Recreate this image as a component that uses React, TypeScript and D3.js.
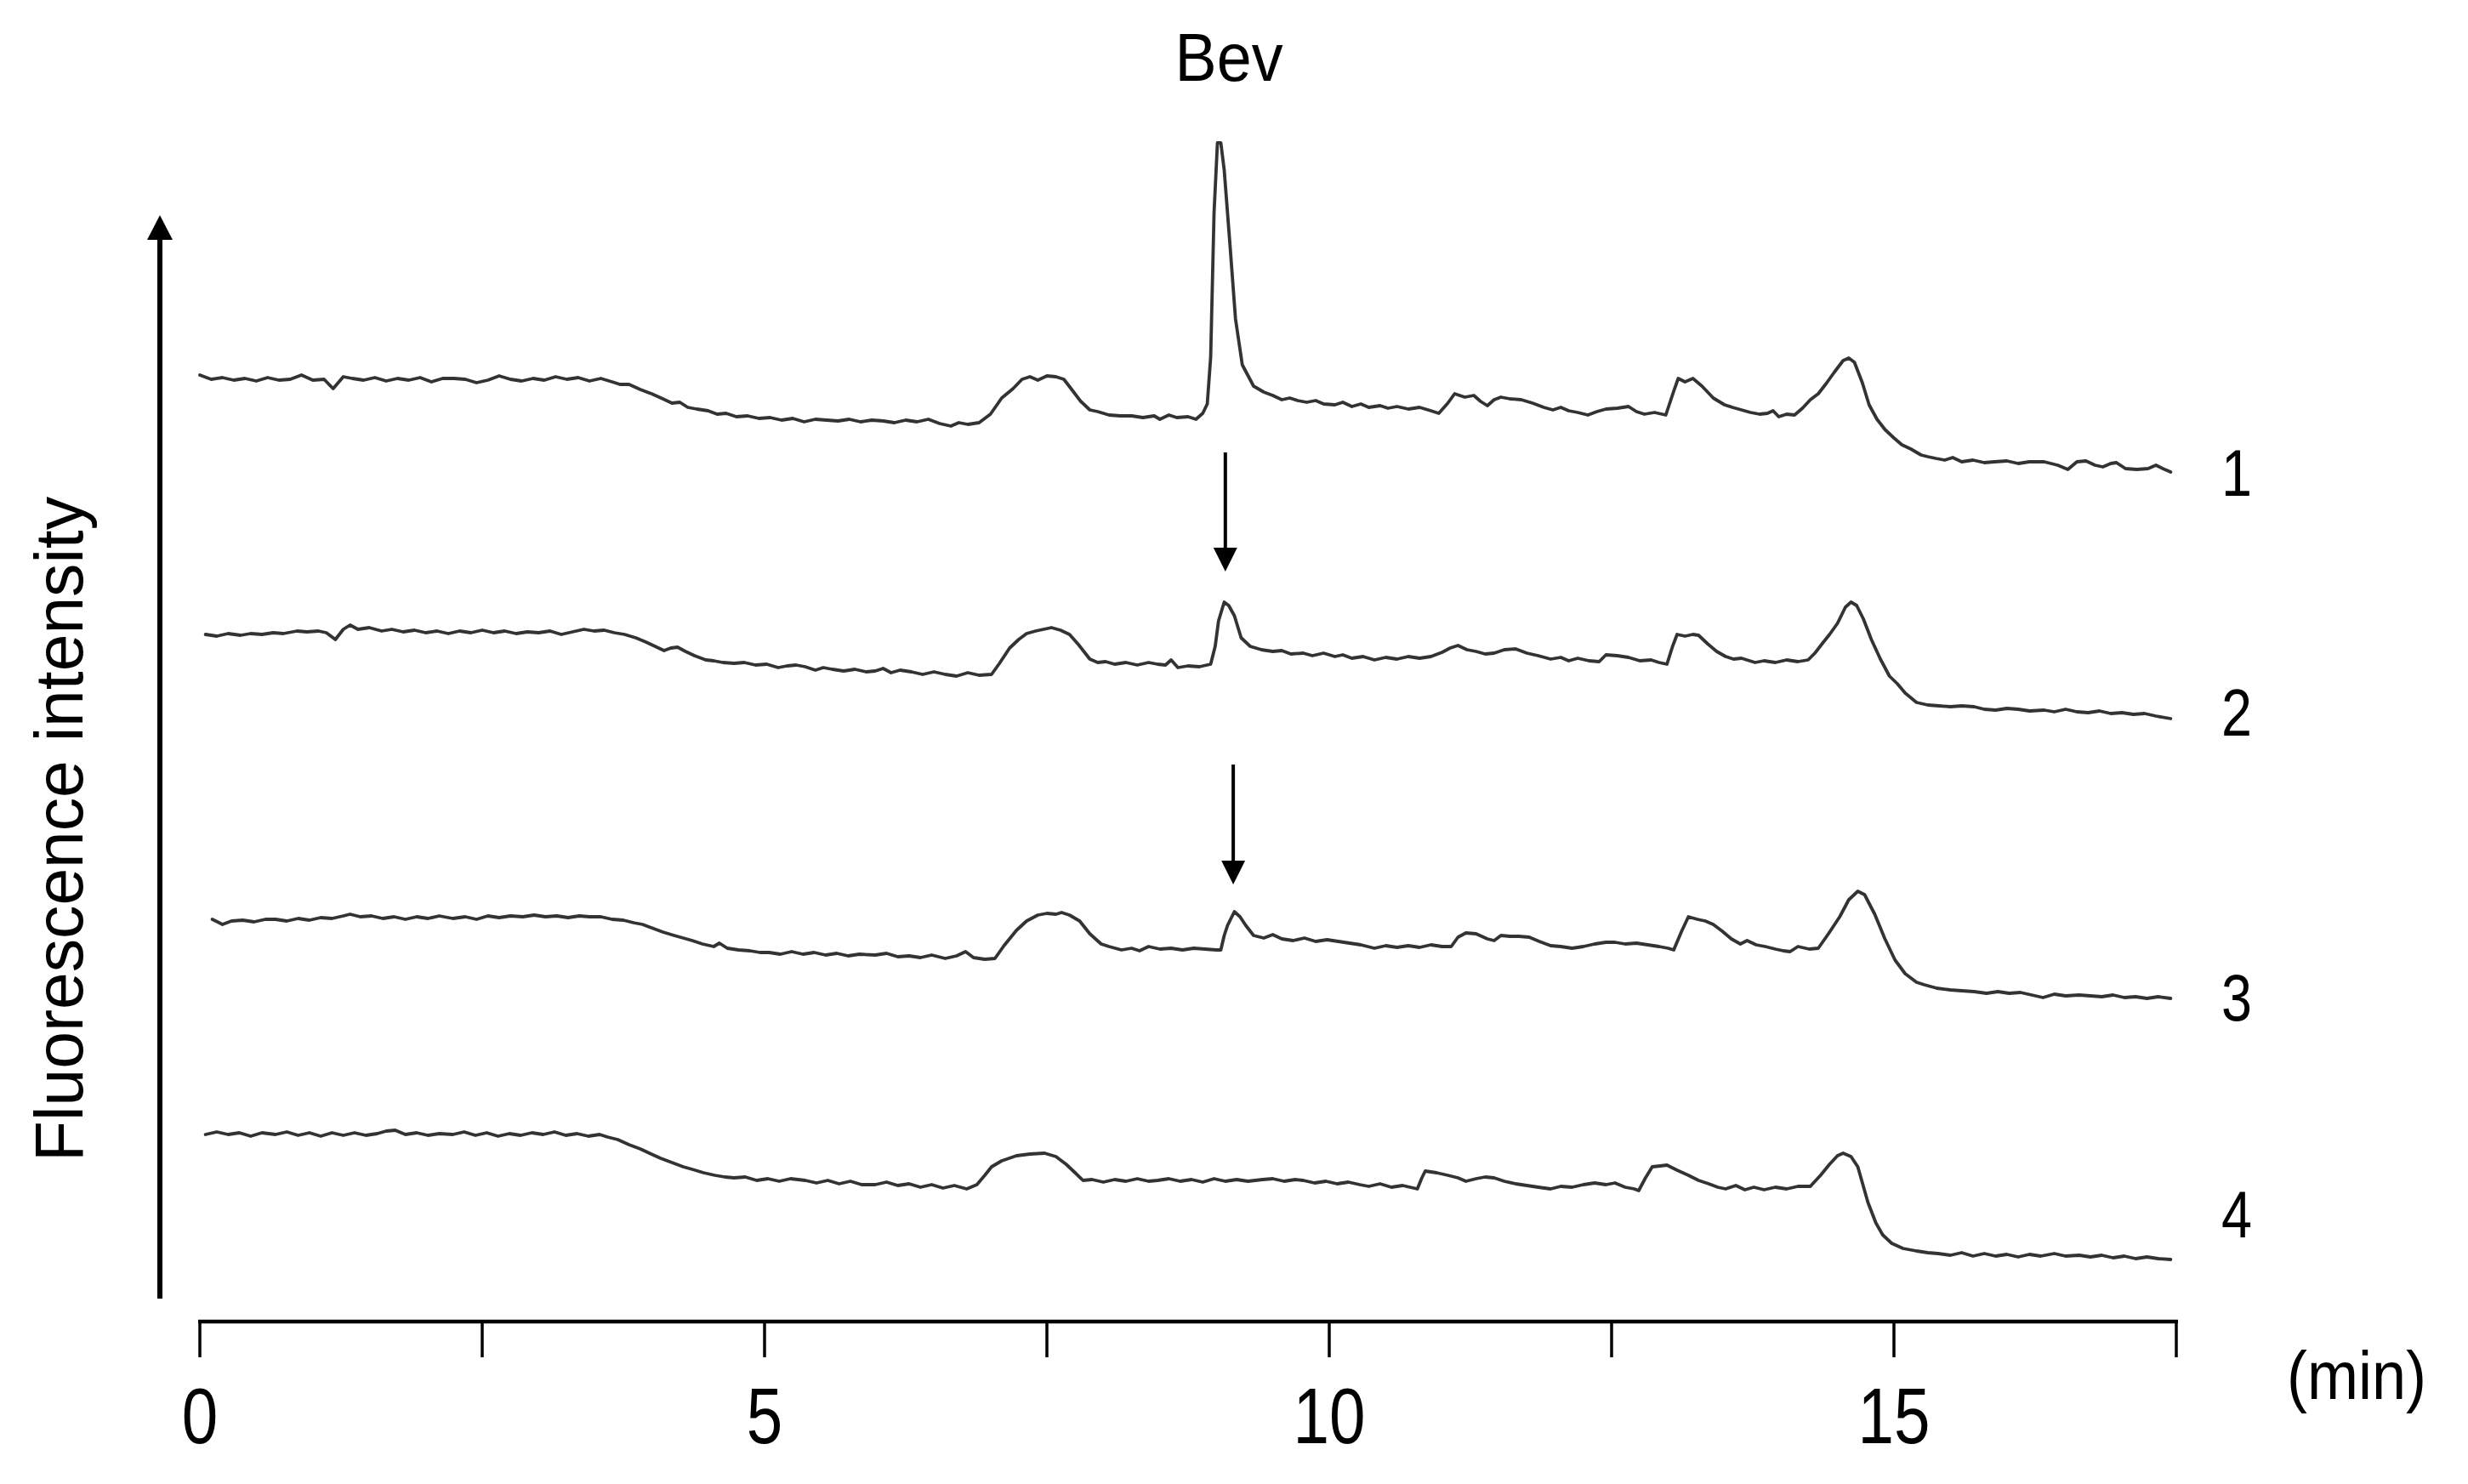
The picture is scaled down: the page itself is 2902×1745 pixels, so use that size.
import React from "react";
import * as d3 from "d3";

// Retention time (min) and fluorescence intensity (arbitrary units)
const trace1: [number, number][] = [
  [0,1159],[0.1,1154],[0.2,1156],[0.3,1153],[0.4,1155],[0.5,1152],[0.6,1156],[0.7,1153],[0.8,1154],[0.9,1159],
  [1.0,1153],[1.1,1154],[1.18,1143],[1.27,1157],[1.35,1155],[1.45,1153],[1.55,1156],[1.65,1152],[1.75,1155],[1.85,1153],
  [1.95,1156],[2.05,1151],[2.15,1155],[2.25,1155],[2.35,1154],[2.45,1150],[2.55,1153],[2.65,1158],[2.75,1154],[2.85,1152],
  [2.95,1155],[3.05,1153],[3.15,1157],[3.25,1154],[3.35,1156],[3.45,1152],[3.55,1155],[3.65,1151],[3.72,1148],[3.8,1148],
  [3.9,1142],[4.0,1137],[4.1,1131],[4.18,1126],[4.25,1127],[4.32,1121],[4.4,1119],[4.5,1117],[4.58,1113],[4.66,1114],
  [4.75,1110],[4.85,1111],[4.95,1108],[5.05,1109],[5.15,1106],[5.25,1108],[5.35,1104],[5.45,1107],[5.55,1106],[5.65,1105],
  [5.75,1107],[5.85,1104],[5.95,1106],[6.05,1105],[6.15,1103],[6.25,1106],[6.35,1104],[6.45,1107],[6.55,1102],[6.65,1099],
  [6.72,1103],[6.8,1101],[6.9,1103],[7.0,1113],[7.1,1132],[7.2,1143],[7.28,1154],[7.35,1157],[7.42,1153],[7.5,1158],
  [7.58,1157],[7.65,1154],[7.72,1142],[7.8,1128],[7.88,1118],[7.95,1116],[8.05,1112],[8.15,1111],[8.25,1111],[8.35,1109],
  [8.45,1111],[8.5,1107],[8.58,1112],[8.65,1109],[8.75,1110],[8.82,1107],[8.88,1114],[8.92,1125],[8.95,1180],[8.98,1350],
  [9.01,1432],[9.04,1432],[9.07,1400],[9.12,1314],[9.17,1225],[9.23,1171],[9.33,1146],[9.42,1139],[9.5,1135],[9.58,1130],
  [9.65,1132],[9.72,1129],[9.8,1127],[9.88,1129],[9.95,1125],[10.05,1124],[10.12,1127],[10.2,1122],[10.28,1125],[10.35,1121],
  [10.45,1123],[10.52,1120],[10.6,1122],[10.7,1119],[10.8,1121],[10.9,1117],[10.97,1114],[11.05,1126],[11.11,1137],[11.2,1133],
  [11.28,1135],[11.34,1128],[11.4,1123],[11.46,1130],[11.52,1133],[11.6,1131],[11.7,1130],[11.8,1126],[11.9,1121],[11.98,1118],
  [12.05,1121],[12.12,1117],[12.2,1115],[12.29,1112],[12.37,1116],[12.45,1119],[12.55,1120],[12.65,1122],[12.72,1116],[12.79,1113],
  [12.88,1115],[12.98,1112],[13.05,1140],[13.09,1155],[13.15,1151],[13.22,1155],[13.3,1146],[13.4,1132],[13.5,1124],[13.57,1121],
  [13.65,1118],[13.73,1115],[13.81,1113],[13.88,1114],[13.93,1117],[13.98,1110],[14.05,1113],[14.12,1112],[14.19,1120],[14.26,1130],
  [14.33,1137],[14.4,1149],[14.47,1162],[14.55,1176],[14.6,1179],[14.65,1174],[14.72,1150],[14.78,1124],[14.85,1107],[14.92,1095],
  [15.0,1085],[15.07,1077],[15.15,1072],[15.24,1065],[15.3,1063],[15.37,1061],[15.45,1059],[15.52,1062],[15.6,1057],[15.7,1059],
  [15.8,1056],[15.89,1057],[16.0,1058],[16.1,1055],[16.2,1057],[16.33,1057],[16.45,1053],[16.54,1048],[16.62,1057],[16.7,1058],
  [16.78,1053],[16.85,1051],[16.92,1055],[16.97,1056],[17.05,1049],[17.15,1048],[17.25,1049],[17.32,1053],[17.38,1049],[17.45,1045],
];

const trace2: [number, number][] = [
  [0.05,854],[0.15,852],[0.25,855],[0.36,853],[0.45,855],[0.55,854],[0.65,856],[0.74,855],[0.86,858],[0.95,857],
  [1.05,858],[1.12,856],[1.2,848],[1.27,860],[1.33,865],[1.4,860],[1.5,862],[1.61,858],[1.7,860],[1.8,857],
  [1.9,859],[2.0,856],[2.1,858],[2.2,855],[2.3,858],[2.4,856],[2.5,859],[2.6,856],[2.7,858],[2.8,855],
  [2.9,857],[3.0,856],[3.1,858],[3.2,854],[3.3,857],[3.4,860],[3.49,858],[3.58,859],[3.67,856],[3.76,854],
  [3.86,850],[3.95,845],[4.03,840],[4.11,835],[4.17,838],[4.23,839],[4.3,834],[4.38,829],[4.48,824],[4.55,823],
  [4.63,821],[4.73,820],[4.82,821],[4.92,818],[5.02,819],[5.12,815],[5.2,817],[5.28,818],[5.36,816],[5.45,812],
  [5.52,815],[5.6,813],[5.7,811],[5.8,813],[5.9,810],[5.98,811],[6.05,814],[6.12,809],[6.2,812],[6.3,810],
  [6.4,807],[6.5,810],[6.6,807],[6.7,805],[6.8,809],[6.9,806],[7.01,807],[7.08,820],[7.17,838],[7.25,848],
  [7.32,855],[7.4,858],[7.47,860],[7.54,862],[7.62,859],[7.7,854],[7.78,842],[7.88,825],[7.95,821],[8.02,822],
  [8.1,819],[8.2,821],[8.3,818],[8.4,821],[8.48,819],[8.55,818],[8.6,824],[8.66,815],[8.75,817],[8.85,816],
  [8.95,819],[8.99,840],[9.02,870],[9.07,892],[9.11,888],[9.16,876],[9.22,850],[9.3,840],[9.4,836],[9.5,834],
  [9.58,835],[9.66,831],[9.77,832],[9.85,829],[9.95,832],[10.05,828],[10.12,830],[10.2,826],[10.3,828],[10.4,824],
  [10.5,827],[10.6,825],[10.7,828],[10.8,826],[10.9,828],[11.0,833],[11.07,838],[11.14,841],[11.22,836],[11.3,834],
  [11.38,831],[11.46,832],[11.55,836],[11.65,837],[11.75,832],[11.85,829],[11.96,825],[12.05,827],[12.12,823],[12.2,826],
  [12.3,823],[12.39,822],[12.45,830],[12.55,829],[12.65,827],[12.75,823],[12.85,824],[12.92,821],[12.99,819],[13.04,840],
  [13.08,854],[13.15,852],[13.22,854],[13.27,853],[13.35,843],[13.43,834],[13.51,828],[13.58,825],[13.65,826],[13.77,821],
  [13.85,823],[13.95,821],[14.05,824],[14.15,822],[14.24,824],[14.3,832],[14.37,844],[14.43,854],[14.5,867],[14.57,886],
  [14.62,892],[14.67,888],[14.73,872],[14.8,848],[14.88,825],[14.96,805],[15.03,796],[15.1,785],[15.2,774],[15.3,771],
  [15.4,770],[15.5,769],[15.6,770],[15.71,769],[15.8,766],[15.9,765],[16.0,767],[16.1,766],[16.2,764],[16.33,765],
  [16.42,763],[16.52,766],[16.62,763],[16.72,762],[16.82,764],[16.92,761],[17.02,762],[17.12,760],[17.22,761],[17.32,758],
  [17.45,755],
];

const trace3: [number, number][] = [
  [0.11,519],[0.2,513],[0.28,517],[0.38,518],[0.48,516],[0.58,519],[0.67,519],[0.77,517],[0.87,520],[0.97,518],
  [1.07,521],[1.17,520],[1.27,523],[1.33,525],[1.42,522],[1.52,523],[1.62,520],[1.72,522],[1.82,519],[1.92,522],
  [2.02,520],[2.12,523],[2.24,520],[2.35,522],[2.45,519],[2.55,523],[2.65,521],[2.75,523],[2.86,522],[2.96,524],
  [3.06,522],[3.16,523],[3.26,521],[3.36,523],[3.45,522],[3.55,522],[3.65,519],[3.75,518],[3.84,515],[3.92,513],
  [4.0,509],[4.1,504],[4.2,500],[4.28,497],[4.36,494],[4.45,490],[4.55,487],[4.6,491],[4.67,485],[4.77,483],
  [4.87,482],[4.96,480],[5.04,480],[5.14,478],[5.24,481],[5.34,478],[5.44,480],[5.54,477],[5.64,479],[5.74,476],
  [5.84,478],[5.98,477],[6.08,479],[6.18,475],[6.28,476],[6.38,474],[6.48,477],[6.6,473],[6.7,476],[6.78,481],
  [6.85,474],[6.95,472],[7.04,473],[7.12,488],[7.23,506],[7.32,517],[7.42,524],[7.5,526],[7.58,525],[7.63,527],
  [7.7,524],[7.79,517],[7.88,502],[7.98,490],[8.05,487],[8.16,483],[8.25,485],[8.32,482],[8.4,487],[8.5,484],
  [8.6,485],[8.7,483],[8.8,485],[8.9,484],[9.0,483],[9.04,483],[9.07,500],[9.1,512],[9.16,528],[9.21,522],
  [9.26,512],[9.33,500],[9.42,497],[9.5,501],[9.58,496],[9.68,494],[9.78,497],[9.88,493],[9.98,495],[10.08,493],
  [10.18,491],[10.28,489],[10.4,485],[10.5,488],[10.6,486],[10.7,488],[10.8,486],[10.9,489],[11.0,487],[11.08,487],
  [11.14,498],[11.21,503],[11.3,502],[11.4,496],[11.46,494],[11.52,500],[11.6,499],[11.68,499],[11.77,498],[11.86,493],
  [11.96,488],[12.05,487],[12.15,485],[12.25,487],[12.35,490],[12.45,492],[12.53,492],[12.62,490],[12.72,491],[12.82,489],
  [12.92,487],[13.0,485],[13.05,483],[13.12,505],[13.18,522],[13.26,519],[13.33,517],[13.4,513],[13.48,505],[13.56,496],
  [13.64,490],[13.7,494],[13.78,489],[13.86,487],[13.95,484],[14.02,482],[14.08,481],[14.15,487],[14.25,484],[14.33,485],
  [14.42,502],[14.52,522],[14.6,542],[14.68,552],[14.74,548],[14.83,525],[14.92,496],[15.01,471],[15.1,455],[15.2,445],
  [15.27,442],[15.38,438],[15.5,436],[15.6,435],[15.71,434],[15.82,432],[15.92,434],[16.02,432],[16.12,433],[16.22,430],
  [16.32,427],[16.42,431],[16.52,429],[16.64,430],[16.74,429],[16.84,428],[16.94,430],[17.04,427],[17.14,428],[17.24,426],
  [17.34,428],[17.45,426],
];

const trace4: [number, number][] = [
  [0.05,266],[0.15,269],[0.25,266],[0.35,268],[0.45,264],[0.55,268],[0.67,266],[0.77,269],[0.87,265],[0.97,268],
  [1.07,264],[1.17,268],[1.27,265],[1.37,268],[1.47,265],[1.57,267],[1.65,270],[1.73,271],[1.82,266],[1.92,268],
  [2.02,265],[2.12,267],[2.24,266],[2.34,269],[2.44,265],[2.54,268],[2.64,264],[2.74,267],[2.84,265],[2.94,268],
  [3.04,266],[3.14,269],[3.24,265],[3.34,267],[3.44,264],[3.54,266],[3.61,263],[3.7,260],[3.8,254],[3.9,249],
  [3.98,244],[4.08,238],[4.18,233],[4.28,228],[4.36,225],[4.46,221],[4.56,218],[4.65,216],[4.73,215],[4.83,216],
  [4.93,212],[5.03,214],[5.13,211],[5.23,214],[5.36,212],[5.46,209],[5.56,212],[5.66,208],[5.76,211],[5.86,207],
  [5.98,207],[6.08,210],[6.18,206],[6.28,208],[6.38,204],[6.48,207],[6.58,203],[6.68,206],[6.79,202],[6.88,207],
  [6.95,218],[7.01,228],[7.1,235],[7.23,241],[7.35,243],[7.48,244],[7.58,240],[7.67,231],[7.75,221],[7.82,212],
  [7.9,213],[8.0,210],[8.1,213],[8.2,211],[8.3,214],[8.4,211],[8.48,212],[8.58,214],[8.68,211],[8.78,213],
  [8.88,210],[8.98,214],[9.08,211],[9.18,213],[9.28,211],[9.41,213],[9.5,214],[9.6,211],[9.7,213],[9.77,212],
  [9.87,209],[9.97,211],[10.07,208],[10.17,210],[10.27,207],[10.35,205],[10.45,208],[10.55,204],[10.65,206],[10.78,202],
  [10.82,215],[10.85,223],[10.95,221],[11.05,218],[11.14,215],[11.21,211],[11.3,214],[11.38,216],[11.46,215],[11.55,211],
  [11.65,208],[11.75,206],[11.85,204],[11.96,202],[12.05,205],[12.15,204],[12.25,207],[12.35,209],[12.45,207],[12.53,209],
  [12.62,204],[12.7,202],[12.74,200],[12.8,215],[12.86,228],[12.93,229],[12.99,230],[13.08,224],[13.18,218],[13.27,212],
  [13.36,208],[13.44,204],[13.51,202],[13.6,206],[13.68,201],[13.76,204],[13.85,201],[13.95,204],[14.05,202],[14.15,205],
  [14.26,205],[14.35,218],[14.43,231],[14.5,241],[14.55,244],[14.62,240],[14.68,228],[14.77,186],[14.84,162],[14.9,148],
  [14.98,138],[15.08,132],[15.2,129],[15.3,127],[15.39,126],[15.5,124],[15.6,127],[15.7,123],[15.8,126],[15.9,123],
  [16.0,125],[16.1,122],[16.2,125],[16.3,123],[16.42,126],[16.52,123],[16.64,124],[16.74,122],[16.84,124],[16.94,121],
  [17.04,123],[17.14,120],[17.24,122],[17.34,120],[17.45,119],
];

const traces = [trace1, trace2, trace3, trace4];
const traceLabels = ["1", "2", "3", "4"];
// intensity at which each trace label sits (label baseline)
const traceLabelLevels = [1017, 735, 400, 145];

const xTicks = [0, 2.5, 5, 7.5, 10, 12.5, 15, 17.5];
const xTickLabels = [0, 5, 10, 15];

// Bev arrows: retention time, shaft top and tip (intensity units)
const bevArrows = [
  { t: 9.08, top: 1068, tip: 928 },
  { t: 9.15, top: 701, tip: 560 },
];

const W = 2902;
const H = 1745;
const FONT = "Arial, 'Liberation Sans', Helvetica, sans-serif";

export default function App() {
  const x = d3.scaleLinear().domain([0, 17.5]).range([235, 2559]);
  const y = d3.scaleLinear().domain([46, 1346]).range([1554, 254]);
  const line = d3
    .line<[number, number]>()
    .x((d) => x(d[0]))
    .y((d) => y(d[1]));

  const axisY = y(46);
  const arrowX = 188;
  const arrowBottom = 1527;
  const arrowTip = 253;

  return (
    <svg
      width={W}
      height={H}
      viewBox={`0 0 ${W} ${H}`}
      style={{ position: "absolute", left: 0, top: 0, background: "#fff" }}
    >
      <rect x={0} y={0} width={W} height={H} fill="#fff" />

      {/* traces */}
      {traces.map((tr, i) => (
        <path
          key={i}
          d={line(tr) || ""}
          fill="none"
          stroke="#333333"
          strokeWidth={3.8}
          strokeLinejoin="round"
          strokeLinecap="round"
        />
      ))}

      {/* trace labels */}
      {traceLabels.map((lb, i) => (
        <text
          key={lb}
          x={2630}
          y={y(traceLabelLevels[i])}
          fontFamily={FONT}
          fontSize={78}
          textAnchor="middle"
          textLength={36}
          lengthAdjust="spacingAndGlyphs"
          fill="#000"
        >
          {lb}
        </text>
      ))}

      {/* Bev label */}
      <text
        x={1445}
        y={95}
        fontFamily={FONT}
        fontSize={80}
        textAnchor="middle"
        textLength={127}
        lengthAdjust="spacingAndGlyphs"
        fill="#000"
      >
        Bev
      </text>

      {/* Bev arrows */}
      {bevArrows.map((a, i) => {
        const ax = x(a.t);
        const tipY = y(a.tip);
        const topY = y(a.top);
        return (
          <g key={i}>
            <line x1={ax} x2={ax} y1={topY} y2={tipY - 20} stroke="#000" strokeWidth={4} />
            <polygon
              points={`${ax - 14},${tipY - 28} ${ax + 14},${tipY - 28} ${ax},${tipY}`}
              fill="#000"
            />
          </g>
        );
      })}

      {/* y arrow */}
      <line x1={arrowX} x2={arrowX} y1={arrowBottom} y2={arrowTip + 24} stroke="#000" strokeWidth={6} />
      <polygon
        points={`${arrowX - 15},${arrowTip + 29} ${arrowX + 15},${arrowTip + 29} ${arrowX},${arrowTip}`}
        fill="#000"
      />
      <text
        transform={`translate(97, 975) rotate(-90)`}
        fontFamily={FONT}
        fontSize={80}
        textAnchor="middle"
        textLength={782}
        lengthAdjust="spacingAndGlyphs"
        fill="#000"
      >
        Fluorescence intensity
      </text>

      {/* x axis */}
      <line x1={x(0) - 2} x2={x(17.5) + 2} y1={axisY} y2={axisY} stroke="#000" strokeWidth={4.5} />
      {xTicks.map((t) => (
        <line key={t} x1={x(t)} x2={x(t)} y1={axisY} y2={axisY + 42} stroke="#000" strokeWidth={3.5} />
      ))}
      {xTickLabels.map((t) => (
        <text
          key={t}
          x={x(t)}
          y={1697}
          fontFamily={FONT}
          fontSize={93}
          textAnchor="middle"
          textLength={String(t).length * 42.5}
          lengthAdjust="spacingAndGlyphs"
          fill="#000"
        >
          {t}
        </text>
      ))}
      <text
        x={2689}
        y={1645}
        fontFamily={FONT}
        fontSize={80}
        textLength={164}
        lengthAdjust="spacingAndGlyphs"
        fill="#000"
      >
        (min)
      </text>
    </svg>
  );
}
